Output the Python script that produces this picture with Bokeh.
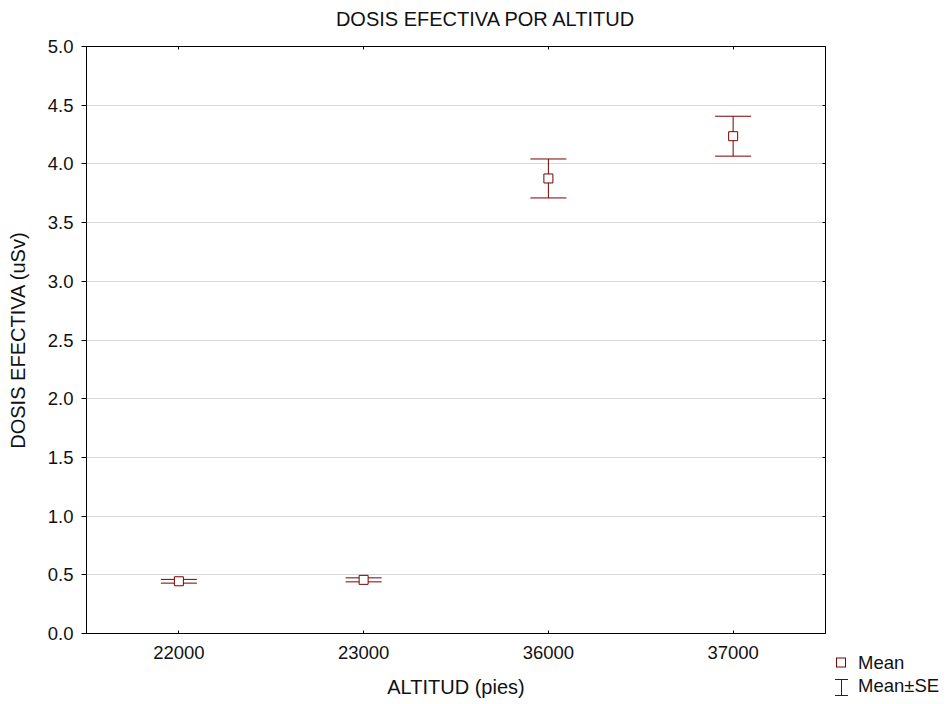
from bokeh.plotting import figure
from bokeh.models import (ColumnDataSource, SingleIntervalTicker, PrintfTickFormatter,
                          LinearAxis, CategoricalAxis, Range1d, Div)
from bokeh.layouts import row, column
from bokeh.embed import file_html
from bokeh.resources import INLINE

# ---- data ----
altitudes = ["22000", "23000", "36000", "37000"]
means = [0.445, 0.457, 3.876, 4.236]
se = [0.016, 0.017, 0.166, 0.170]
y_ticks_interval = 0.5
legend_labels = ["Mean", "Mean±SE"]
title_text = "DOSIS EFECTIVA POR ALTITUD"

FONT = "Liberation Sans"
FS = "20px"
TICK_FS = "18.5px"
RED = "#7a0000"
TXT = "#111111"

lower = [m - s for m, s in zip(means, se)]
upper = [m + s for m, s in zip(means, se)]
src = ColumnDataSource(dict(x=altitudes, m=means, lo=lower, hi=upper))

TH = 30          # height of the title strip
H = 700 - TH     # height of the plot figure
p = figure(x_range=altitudes, y_range=Range1d(0, 5),
           frame_width=739, frame_height=587,
           min_border_left=86, min_border_right=8, min_border_top=46 - TH,
           min_border_bottom=H - (46 - TH) - 587,
           output_backend="svg", toolbar_location=None, title=None)
p.x_range.range_padding = 0

p.outline_line_color = "black"
p.outline_line_width = 1
p.background_fill_color = "white"
p.border_fill_color = "white"

p.xgrid.grid_line_color = None
p.ygrid.grid_line_color = "#dadada"
p.ygrid.grid_line_width = 1

yax = p.yaxis[0]
yax.ticker = SingleIntervalTicker(interval=y_ticks_interval)
yax.formatter = PrintfTickFormatter(format="%.1f")
yax.minor_tick_line_color = None
yax.major_tick_out = 5
yax.major_tick_in = 0
yax.major_label_standoff = 8
yax.axis_label = "DOSIS EFECTIVA (uSv)"
yax.axis_label_standoff = 16
yax.axis_label_text_font = FONT
yax.axis_label_text_font_size = FS
yax.axis_label_text_font_style = "normal"
yax.major_label_text_font = FONT
yax.major_label_text_font_size = TICK_FS
yax.major_label_text_color = TXT
yax.axis_label_text_color = TXT
yax.axis_line_color = "black"
yax.major_tick_line_color = "black"

xax = p.xaxis[0]
xax.major_tick_out = 0
xax.major_tick_in = 3
xax.major_label_standoff = 12
xax.axis_label = "ALTITUD (pies)"
xax.axis_label_standoff = 14
xax.axis_label_text_font = FONT
xax.axis_label_text_font_size = FS
xax.axis_label_text_font_style = "normal"
xax.major_label_text_font = FONT
xax.major_label_text_font_size = TICK_FS
xax.major_label_text_color = TXT
xax.axis_label_text_color = TXT
xax.axis_line_color = "black"
xax.major_tick_line_color = "black"

# top / right axes with inward ticks, labels not drawn
rax = LinearAxis(ticker=SingleIntervalTicker(interval=y_ticks_interval),
                 major_tick_in=3, major_tick_out=0, minor_tick_line_color=None,
                 major_label_text_font_size="1px", major_label_text_color=None,
                 major_label_standoff=0, axis_line_color="black")
p.add_layout(rax, "right")
tax = CategoricalAxis(major_tick_in=3, major_tick_out=0,
                      major_label_text_font_size="1px", major_label_text_color=None,
                      major_label_standoff=0, axis_line_color="black")
p.add_layout(tax, "above")

# error bars
p.segment(x0="x", y0="lo", x1="x", y1="hi", source=src, line_color=RED, line_width=1)
p.scatter(x="x", y="lo", source=src, marker="dash", size=36, line_color=RED, line_width=1)
p.scatter(x="x", y="hi", source=src, marker="dash", size=36, line_color=RED, line_width=1)
# means
p.scatter(x="x", y="m", source=src, marker="square", size=9, line_color=RED,
          fill_color="white", line_width=1)

# ---- title strip ----
title_html = f"""
<div style="position:relative;width:940px;height:{TH}px;font-family:'{FONT}';font-size:{FS};color:{TXT};">
  <span style="position:absolute;left:485px;top:9px;transform:translateX(-50%);line-height:20px;white-space:nowrap;">{title_text}</span>
</div>
"""
title_div = Div(text=title_html, width=940, height=TH, margin=0)

# ---- legend (outside the plot frame, bottom right) ----
LW = 105
o = TH
legend_html = f"""
<div style="position:relative;width:{LW}px;height:{H}px;font-family:'{FONT}';font-size:{TICK_FS};color:{TXT};">
  <svg style="position:absolute;left:0;top:0;" width="20" height="{H}">
    <rect x="3.5" y="{658 - o}" width="9" height="9" fill="white" stroke="{RED}" stroke-width="1"/>
    <line x1="8.5" y1="{679 - o}" x2="8.5" y2="{696 - o}" stroke="{RED}" stroke-width="1"/>
    <line x1="2" y1="{679.5 - o}" x2="15" y2="{679.5 - o}" stroke="{RED}" stroke-width="1"/>
    <line x1="2" y1="{695.5 - o}" x2="15" y2="{695.5 - o}" stroke="{RED}" stroke-width="1"/>
  </svg>
  <span style="position:absolute;left:25px;top:{653 - o}px;line-height:20px;white-space:nowrap;">{legend_labels[0]}</span>
  <span style="position:absolute;left:25px;top:{676 - o}px;line-height:20px;white-space:nowrap;">{legend_labels[1]}</span>
</div>
"""
leg = Div(text=legend_html, width=LW, height=H, margin=0)

layout = column(title_div, row(p, leg))
open("out.html", "w").write(file_html(layout, INLINE))
